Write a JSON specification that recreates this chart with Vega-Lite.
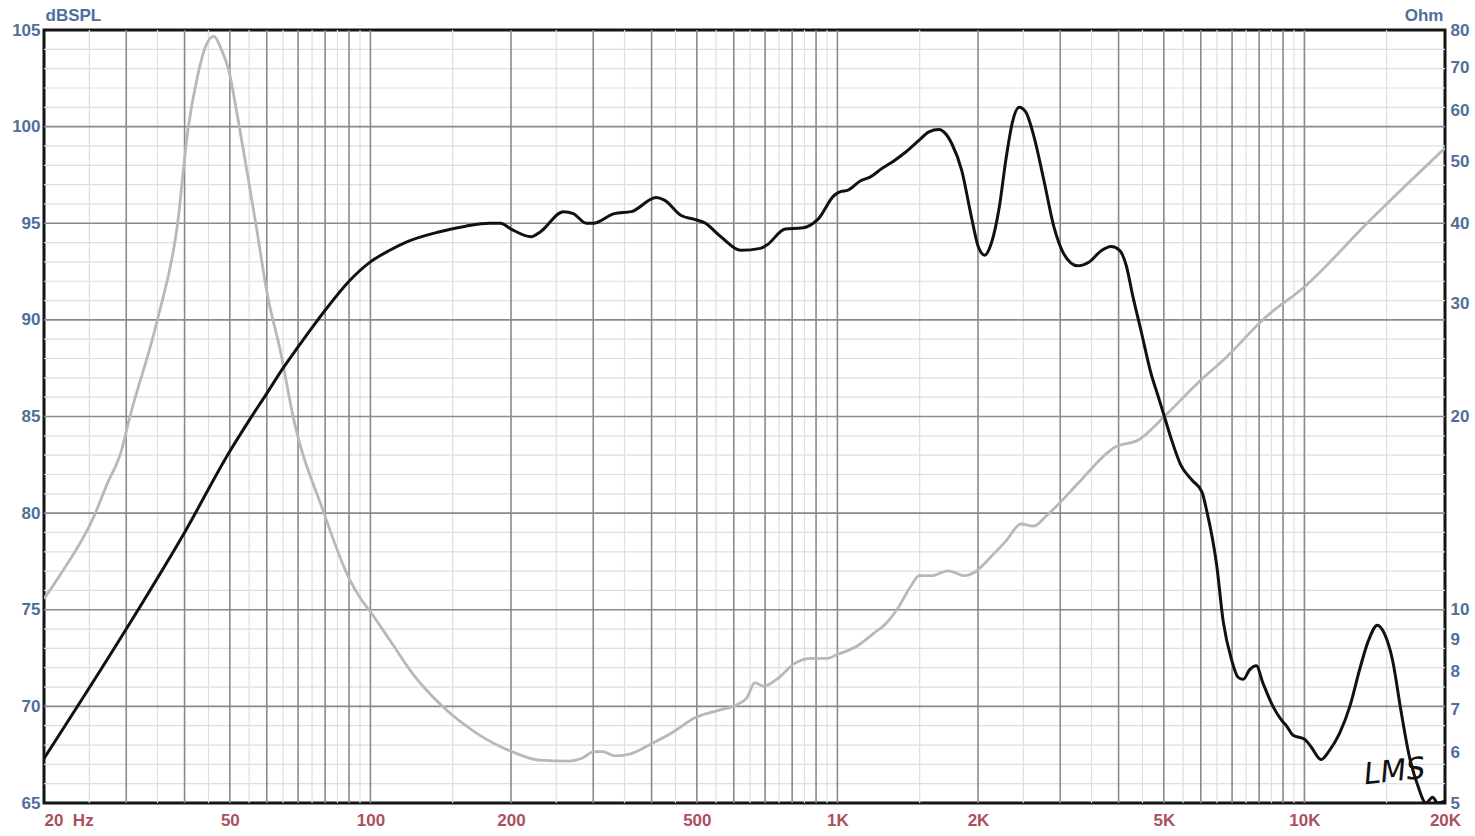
{
  "$schema": "https://vega.github.io/schema/vega-lite/v6.json",
  "width": 1401,
  "height": 773,
  "autosize": "none",
  "padding": {"left": 44, "top": 30, "right": 30, "bottom": 33},
  "background": "white",
  "config": {"view": {"stroke": "#151515", "strokeWidth": 3}},
  "datasets": {
    "spl": [
      {"f": 20, "db": 67.3}, {"f": 30, "db": 74.0}, {"f": 40, "db": 79.0}, {"f": 50, "db": 83.2},
      {"f": 55, "db": 84.8}, {"f": 60, "db": 86.2}, {"f": 65, "db": 87.5}, {"f": 70, "db": 88.6},
      {"f": 75, "db": 89.6}, {"f": 80, "db": 90.5}, {"f": 90, "db": 92.0}, {"f": 100, "db": 93.0},
      {"f": 110, "db": 93.6}, {"f": 120, "db": 94.05}, {"f": 140, "db": 94.55}, {"f": 160, "db": 94.85},
      {"f": 180, "db": 95.0}, {"f": 190, "db": 95.0}, {"f": 200, "db": 94.7},
      {"f": 221, "db": 94.3}, {"f": 231, "db": 94.55}, {"f": 259, "db": 95.6}, {"f": 272, "db": 95.5},
      {"f": 290, "db": 95.0}, {"f": 300, "db": 95.0}, {"f": 333, "db": 95.5}, {"f": 362, "db": 95.6},
      {"f": 409, "db": 96.33}, {"f": 426, "db": 96.2}, {"f": 463, "db": 95.4}, {"f": 494, "db": 95.2},
      {"f": 519, "db": 95.03}, {"f": 563, "db": 94.3}, {"f": 621, "db": 93.6}, {"f": 684, "db": 93.7},
      {"f": 706, "db": 93.87}, {"f": 773, "db": 94.7}, {"f": 838, "db": 94.75}, {"f": 908, "db": 95.2},
      {"f": 985, "db": 96.45}, {"f": 1019, "db": 96.65}, {"f": 1051, "db": 96.7}, {"f": 1121, "db": 97.2},
      {"f": 1177, "db": 97.4}, {"f": 1245, "db": 97.83}, {"f": 1316, "db": 98.2}, {"f": 1403, "db": 98.7},
      {"f": 1497, "db": 99.3}, {"f": 1570, "db": 99.73}, {"f": 1648, "db": 99.85}, {"f": 1702, "db": 99.65},
      {"f": 1759, "db": 99.1}, {"f": 1845, "db": 97.75}, {"f": 1937, "db": 95.3}, {"f": 2002, "db": 93.8},
      {"f": 2068, "db": 93.35}, {"f": 2135, "db": 93.95}, {"f": 2222, "db": 95.85}, {"f": 2295, "db": 98.3},
      {"f": 2371, "db": 100.25}, {"f": 2449, "db": 101.0}, {"f": 2530, "db": 100.76}, {"f": 2637, "db": 99.46},
      {"f": 2769, "db": 97.2}, {"f": 2909, "db": 94.8}, {"f": 3056, "db": 93.4}, {"f": 3266, "db": 92.8},
      {"f": 3461, "db": 93.0}, {"f": 3671, "db": 93.58}, {"f": 3856, "db": 93.8}, {"f": 4021, "db": 93.6},
      {"f": 4155, "db": 92.8}, {"f": 4293, "db": 91.2}, {"f": 4472, "db": 89.4}, {"f": 4697, "db": 87.2},
      {"f": 4854, "db": 86.1}, {"f": 4999, "db": 85.1}, {"f": 5177, "db": 83.9}, {"f": 5433, "db": 82.5},
      {"f": 5750, "db": 81.7}, {"f": 6033, "db": 81.1}, {"f": 6180, "db": 80.1}, {"f": 6489, "db": 77.3},
      {"f": 6700, "db": 74.4}, {"f": 6985, "db": 72.4}, {"f": 7214, "db": 71.5}, {"f": 7395, "db": 71.4},
      {"f": 7637, "db": 71.9}, {"f": 7889, "db": 72.1}, {"f": 8152, "db": 71.2}, {"f": 8563, "db": 70.0},
      {"f": 8924, "db": 69.3}, {"f": 9150, "db": 69.0}, {"f": 9458, "db": 68.5}, {"f": 10008, "db": 68.3},
      {"f": 10340, "db": 67.9}, {"f": 10850, "db": 67.25}, {"f": 11300, "db": 67.7}, {"f": 11890, "db": 68.6},
      {"f": 12510, "db": 70.0}, {"f": 13160, "db": 72.0}, {"f": 13710, "db": 73.4}, {"f": 14330, "db": 74.2},
      {"f": 14810, "db": 73.8}, {"f": 15440, "db": 72.4}, {"f": 16090, "db": 69.8}, {"f": 16780, "db": 67.4},
      {"f": 17490, "db": 65.9}, {"f": 18210, "db": 65.0}, {"f": 18820, "db": 65.3}, {"f": 19280, "db": 65.0},
      {"f": 20000, "db": 65.1}
    ],
    "imp": [
      {"f": 20, "ohm": 10.4}, {"f": 21.6, "ohm": 11.3}, {"f": 25.5, "ohm": 13.9}, {"f": 27.3, "ohm": 15.7},
      {"f": 29.3, "ohm": 17.7}, {"f": 30.5, "ohm": 19.9}, {"f": 34.9, "ohm": 28.1}, {"f": 38.6, "ohm": 39.7},
      {"f": 40.7, "ohm": 56.2}, {"f": 42.6, "ohm": 67.6}, {"f": 44.3, "ohm": 75.2}, {"f": 45.0, "ohm": 77.0},
      {"f": 46.2, "ohm": 78.2}, {"f": 48.0, "ohm": 74.5}, {"f": 49.7, "ohm": 69.4}, {"f": 51.9, "ohm": 58.8},
      {"f": 54.2, "ohm": 49.0}, {"f": 56.9, "ohm": 39.7}, {"f": 60.1, "ohm": 31.1}, {"f": 64.3, "ohm": 25.1},
      {"f": 68.4, "ohm": 19.9}, {"f": 79.1, "ohm": 14.3}, {"f": 90.5, "ohm": 11.1}, {"f": 95.8, "ohm": 10.35},
      {"f": 100, "ohm": 9.93}, {"f": 110, "ohm": 8.97}, {"f": 123, "ohm": 7.96}, {"f": 143, "ohm": 7.06},
      {"f": 169, "ohm": 6.42}, {"f": 201, "ohm": 6.01}, {"f": 230, "ohm": 5.83}, {"f": 266, "ohm": 5.81},
      {"f": 284, "ohm": 5.87}, {"f": 301, "ohm": 6.01}, {"f": 314, "ohm": 6.01}, {"f": 334, "ohm": 5.92},
      {"f": 362, "ohm": 5.97}, {"f": 401, "ohm": 6.19}, {"f": 445, "ohm": 6.45}, {"f": 494, "ohm": 6.78},
      {"f": 560, "ohm": 6.98}, {"f": 606, "ohm": 7.1}, {"f": 639, "ohm": 7.28}, {"f": 666, "ohm": 7.7},
      {"f": 694, "ohm": 7.6}, {"f": 746, "ohm": 7.82}, {"f": 810, "ohm": 8.25}, {"f": 879, "ohm": 8.4},
      {"f": 954, "ohm": 8.4}, {"f": 993, "ohm": 8.5}, {"f": 1102, "ohm": 8.78}, {"f": 1196, "ohm": 9.19},
      {"f": 1272, "ohm": 9.53}, {"f": 1352, "ohm": 10.1}, {"f": 1438, "ohm": 10.9}, {"f": 1497, "ohm": 11.3},
      {"f": 1591, "ohm": 11.3}, {"f": 1726, "ohm": 11.5}, {"f": 1873, "ohm": 11.3}, {"f": 1950, "ohm": 11.4},
      {"f": 2157, "ohm": 12.2}, {"f": 2297, "ohm": 12.8}, {"f": 2470, "ohm": 13.6}, {"f": 2630, "ohm": 13.5},
      {"f": 2800, "ohm": 14.0}, {"f": 3000, "ohm": 14.7}, {"f": 3266, "ohm": 15.7}, {"f": 3920, "ohm": 17.9},
      {"f": 4420, "ohm": 18.4}, {"f": 5047, "ohm": 20.1}, {"f": 5890, "ohm": 22.5}, {"f": 6787, "ohm": 24.7},
      {"f": 8280, "ohm": 28.6}, {"f": 9980, "ohm": 31.8}, {"f": 13800, "ohm": 40.4}, {"f": 20000, "ohm": 52.4}
    ],
    "vmaj": [
      {"f": 30}, {"f": 40}, {"f": 50}, {"f": 60}, {"f": 70}, {"f": 80}, {"f": 90}, {"f": 100},
      {"f": 200}, {"f": 300}, {"f": 400}, {"f": 500}, {"f": 600}, {"f": 700}, {"f": 800}, {"f": 900}, {"f": 1000},
      {"f": 2000}, {"f": 3000}, {"f": 4000}, {"f": 5000}, {"f": 6000}, {"f": 7000}, {"f": 8000}, {"f": 9000}, {"f": 10000}
    ],
    "vmin": [
      {"f": 25}, {"f": 35}, {"f": 45}, {"f": 55}, {"f": 65}, {"f": 75}, {"f": 85}, {"f": 95}, {"f": 150},
      {"f": 250}, {"f": 350}, {"f": 450}, {"f": 550}, {"f": 650}, {"f": 750}, {"f": 850}, {"f": 950}, {"f": 1500},
      {"f": 2500}, {"f": 3500}, {"f": 4500}, {"f": 5500}, {"f": 6500}, {"f": 7500}, {"f": 8500}, {"f": 9500}, {"f": 15000}
    ],
    "hmaj": [{"db": 70}, {"db": 75}, {"db": 80}, {"db": 85}, {"db": 90}, {"db": 95}, {"db": 100}],
    "hmin": [
      {"db": 66}, {"db": 67}, {"db": 68}, {"db": 69}, {"db": 71}, {"db": 72}, {"db": 73}, {"db": 74},
      {"db": 76}, {"db": 77}, {"db": 78}, {"db": 79}, {"db": 81}, {"db": 82}, {"db": 83}, {"db": 84},
      {"db": 86}, {"db": 87}, {"db": 88}, {"db": 89}, {"db": 91}, {"db": 92}, {"db": 93}, {"db": 94},
      {"db": 96}, {"db": 97}, {"db": 98}, {"db": 99}, {"db": 101}, {"db": 102}, {"db": 103}, {"db": 104}
    ],
    "note": [{"f": 15600, "db": 66.6, "t": "LMS"}]
  },
  "layer": [
    {
      "data": {"name": "vmin"},
      "mark": {"type": "rule", "color": "#d9dfe6", "strokeWidth": 1.2},
      "encoding": {"x": {"field": "f", "type": "quantitative", "scale": {"type": "log", "domain": [20, 20000], "nice": false},
          "axis": {"orient": "bottom", "values": [20, 50, 100, 200, 500, 1000, 2000, 5000, 10000, 20000],
            "labelExpr": "datum.value == 20 ? '20\u00a0\u00a0Hz' : (datum.value >= 1000 ? (datum.value / 1000) + 'K' : datum.value + '')",
            "labelAlign": {"condition": {"test": "datum.value == 20", "value": "left"}, "value": "center"},
            "grid": false, "ticks": false, "domain": false, "labelOverlap": false, "labelBound": false, "labelFlush": false,
            "labelFont": "Liberation Sans", "labelFontWeight": "bold", "labelFontSize": 17, "labelColor": "#ad4f5e", "labelPadding": 9,
            "title": null}}}
    },
    {
      "data": {"name": "hmin"},
      "mark": {"type": "rule", "color": "#d9dfe6", "strokeWidth": 1.2},
      "encoding": {"y": {"field": "db", "type": "quantitative", "scale": {"domain": [65, 105], "nice": false, "zero": false}, "axis": null}}
    },
    {
      "data": {"name": "vmaj"},
      "mark": {"type": "rule", "color": "#8a8a8a", "strokeWidth": 1.6},
      "encoding": {"x": {"field": "f", "type": "quantitative"}}
    },
    {
      "data": {"name": "hmaj"},
      "mark": {"type": "rule", "color": "#8a8a8a", "strokeWidth": 1.6},
      "encoding": {"y": {"field": "db", "type": "quantitative", "scale": {"domain": [65, 105], "nice": false, "zero": false}, "axis": null}}
    },
    {
      "data": {"name": "imp"},
      "mark": {"type": "line", "color": "#b8b8b8", "strokeWidth": 2.8, "interpolate": "monotone", "clip": true},
      "encoding": {
        "x": {"field": "f", "type": "quantitative"},
        "y": {"field": "ohm", "type": "quantitative", "scale": {"type": "log", "domain": [5, 80], "nice": false},
          "axis": {"orient": "right", "values": [5, 6, 7, 8, 9, 10, 20, 30, 40, 50, 60, 70, 80], "labelExpr": "datum.value + ''",
            "grid": false, "ticks": false, "domain": false, "labelOverlap": false, "labelBound": false,
            "labelFont": "Liberation Sans", "labelFontWeight": "bold", "labelFontSize": 17, "labelColor": "#4f6f9b", "labelPadding": 5,
            "title": "Ohm", "titleAngle": 0, "titleX": -2, "titleY": -15, "titleAlign": "right", "titleBaseline": "middle",
            "titleFont": "Liberation Sans", "titleFontWeight": "bold", "titleFontSize": 17, "titleColor": "#4f6f9b"}}
      }
    },
    {
      "data": {"name": "spl"},
      "mark": {"type": "line", "color": "#111111", "strokeWidth": 3, "interpolate": "monotone", "clip": true},
      "encoding": {
        "x": {"field": "f", "type": "quantitative"},
        "y": {"field": "db", "type": "quantitative", "scale": {"domain": [65, 105], "nice": false, "zero": false},
          "axis": {"orient": "left", "values": [65, 70, 75, 80, 85, 90, 95, 100, 105],
            "grid": false, "ticks": false, "domain": false, "labelOverlap": false, "labelBound": false,
            "labelFont": "Liberation Sans", "labelFontWeight": "bold", "labelFontSize": 17, "labelColor": "#4f6f9b", "labelPadding": 4,
            "title": "dBSPL", "titleAngle": 0, "titleX": 1, "titleY": -15, "titleAlign": "left", "titleBaseline": "middle",
            "titleFont": "Liberation Sans", "titleFontWeight": "bold", "titleFontSize": 17, "titleColor": "#4f6f9b"}}
      }
    },
    {
      "data": {"name": "note"},
      "mark": {"type": "text", "font": "DejaVu Sans", "fontStyle": "italic", "fontSize": 30, "fontWeight": "normal", "color": "#111111", "angle": -6},
      "encoding": {
        "x": {"field": "f", "type": "quantitative"},
        "y": {"field": "db", "type": "quantitative", "scale": {"domain": [65, 105], "nice": false, "zero": false}, "axis": null},
        "text": {"field": "t"}
      }
    }
  ],
  "resolve": {"scale": {"y": "independent", "x": "shared"}, "axis": {"x": "shared"}}
}
